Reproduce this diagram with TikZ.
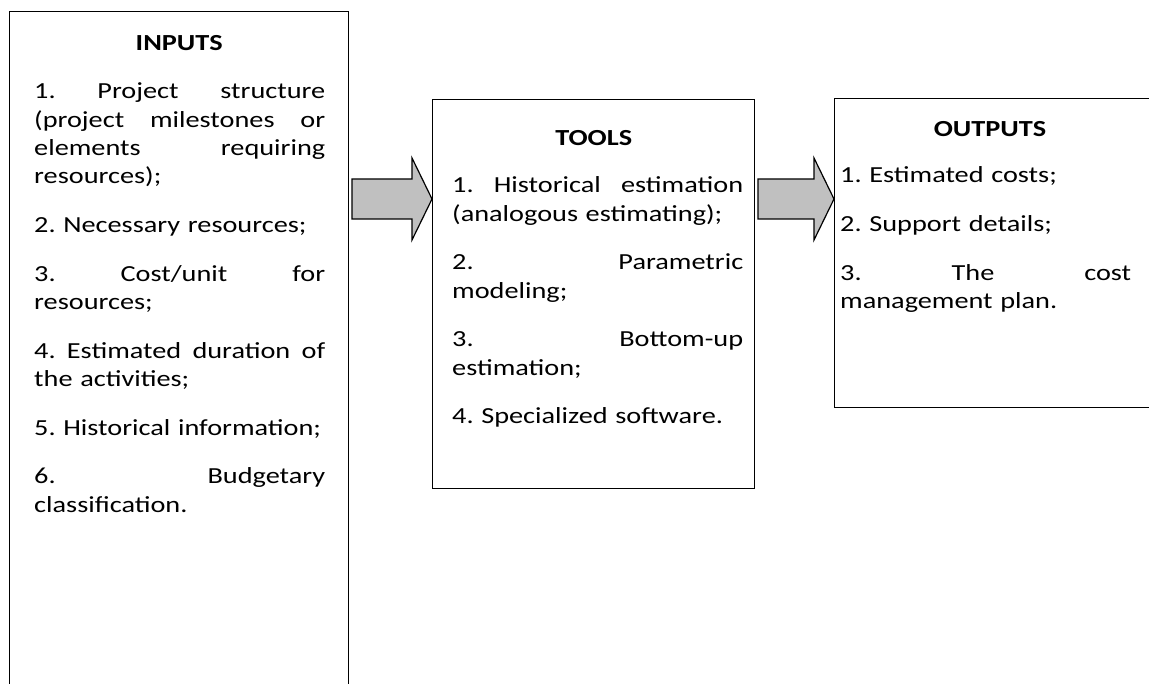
\documentclass[tikz,border=0pt]{standalone}
\usepackage{fontspec}
\setmainfont{Carlito}[FakeStretch=1.23]
\usetikzlibrary{calc}

\definecolor{arrowfill}{RGB}{192,192,192}

% one justified line of a list item (words separated by \hfill)
\newcommand\jline[1]{\leavevmode\hbox to 291pt{#1}}
% gap between list items
\newcommand\itemgap{\\[20.4pt]}

% block arrow from a tail point to a tip point on the same height
\newcommand\flowarrow[2]{%
  \draw[blockarrow]
    ($(#1)+(0,-20)$) -- ($(#2)+(-20,-20)$) -- ($(#2)+(-20,-41)$) --
    (#2) --
    ($(#2)+(-20,41)$) -- ($(#2)+(-20,20)$) -- ($(#1)+(0,20)$) -- cycle;}

\begin{document}
\frenchspacing
\begin{tikzpicture}[x=1pt,y=-1pt,
  frame/.style={draw=black,line width=1.4pt,rectangle,inner sep=0pt,anchor=north west},
  title/.style={font=\fontsize{23}{28.3}\selectfont\bfseries,anchor=base,inner sep=0pt},
  body/.style={font=\fontsize{23}{28.3}\selectfont\frenchspacing,text width=291pt,align=left,
    anchor=base west,inner sep=0pt},
  blockarrow/.style={draw=black,line width=1.2pt,fill=arrowfill,line join=miter}]
\useasboundingbox (0,0) rectangle (1149,684);

% the three frames (the first runs off the bottom, the last off the right)
\node[frame,minimum width=339pt,minimum height=720pt] (inputs) at (9,11) {};
\node[frame,minimum width=322pt,minimum height=389pt] (tools) at (432,99) {};
\node[frame,minimum width=340pt,minimum height=309pt] (outputs) at (834,98) {};

% headings
\node[title] (inputs-title) at (inputs.north |- 0,51) {INPUTS};
\node[title] (tools-title) at (tools.north |- 0,146) {TOOLS};
\node[title] (outputs-title) at (990,137) {OUTPUTS};

% lists
\node[body] (inputs-list) at (34,99) {%
  \jline{1.\hfill Project\hfill structure}\\
  \jline{(project\hfill milestones\hfill or}\\
  \jline{elements\hfill requiring}\\
  resources);\itemgap
  2. Necessary resources;\itemgap
  \jline{3.\hfill Cost/unit\hfill for}\\
  resources;\itemgap
  \jline{4.\hfill Estimated\hfill duration\hfill of}\\
  the activities;\itemgap
  5. Historical information;\itemgap
  \jline{6.\hfill Budgetary}\\
  classification.};

\node[body] (tools-list) at (452,193) {%
  \jline{1.\hfill Historical\hfill estimation}\\
  (analogous estimating);\itemgap
  \jline{2.\hfill Parametric}\\
  modeling;\itemgap
  \jline{3.\hfill Bottom-up}\\
  estimation;\itemgap
  4. Specialized software.};

\node[body] (outputs-list) at (840,183) {%
  1. Estimated costs;\itemgap
  2. Support details;\itemgap
  \jline{3.\hfill The\hfill cost}\\
  management plan.};

% arrows between the frames
\coordinate (a1tail) at (352,199);
\coordinate (a1tip) at (tools.west |- a1tail);
\flowarrow{a1tail}{a1tip}
\coordinate (a2tail) at (758,199);
\coordinate (a2tip) at (outputs.west |- a2tail);
\flowarrow{a2tail}{a2tip}
\end{tikzpicture}
\end{document}
